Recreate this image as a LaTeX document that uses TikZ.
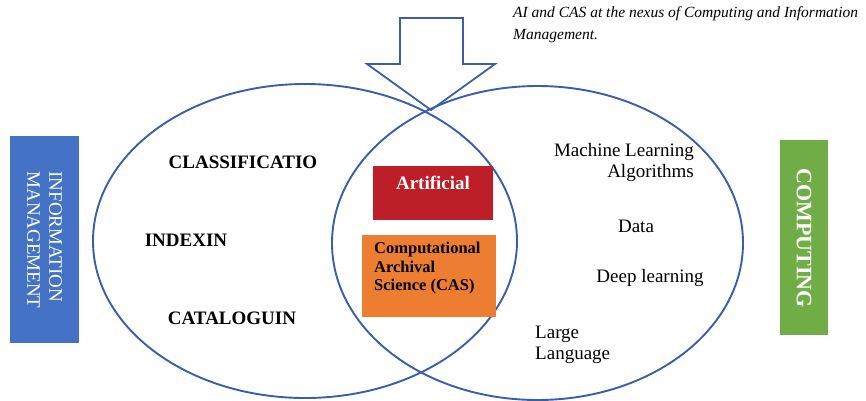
\documentclass[tikz,border=0pt]{standalone}
\usepackage{fontspec}
\setmainfont{Liberation Serif}
\definecolor{vennline}{RGB}{59,94,170}
\definecolor{imblue}{RGB}{68,114,196}
\definecolor{compgreen}{RGB}{112,173,71}
\definecolor{aired}{RGB}{190,30,40}
\definecolor{casorange}{RGB}{237,125,49}
\tikzset{
  venn/.style={draw=vennline, line width=1.9pt},
  boldlbl/.style={font=\fontsize{19}{22}\selectfont\bfseries, inner sep=0pt},
  plainlbl/.style={font=\fontsize{19}{21}\selectfont, inner sep=0pt},
}
\begin{document}
\begin{tikzpicture}[x=1pt, y=-1pt]
  \useasboundingbox (0,0) rectangle (866,400);
  % two overlapping sets
  \draw[venn] (305,241) ellipse [x radius=212pt, y radius=157pt];
  \draw[venn] (537.5,243) ellipse [x radius=205.5pt, y radius=157pt];
  % downward block arrow pointing at the overlap
  \draw[venn, line width=1.8pt, line join=miter]
    (400,18) -- (463,18) -- (463,64) -- (495,64) -- (431,110)
    -- (367,64) -- (400,64) -- cycle;
  % caption
  \node[anchor=north west, align=left, inner sep=0pt,
        font=\fontsize{15.5}{22.5}\selectfont\itshape] (caption) at (513,6)
    {AI and CAS at the nexus of Computing and Information\\Management.};
  % side panels
  \fill[imblue] (10,136) rectangle (79,343);
  \node[rotate=-90, align=left, inner sep=0pt, text=white,
        font=\fontsize{19}{22}\selectfont] (im) at (44.5,240)
    {INFORMATION\\MANAGEMENT};
  \fill[compgreen] (780,140) rectangle (828,335);
  \node[rotate=-90, inner sep=0pt, text=white,
        font=\fontsize{22}{24}\selectfont\bfseries] (comp) at (804,238)
    {COMPUTING};
  % information management topics
  \node[boldlbl] (classif) at (243,162) {CLASSIFICATIO};
  \node[boldlbl] (index) at (186,240) {INDEXIN};
  \node[boldlbl] (catalog) at (232,318) {CATALOGUIN};
  % overlap
  \fill[aired] (373,166) rectangle (493,220);
  \node[boldlbl, text=white] (ai) at (433,183) {Artificial};
  \fill[casorange] (362,235) rectangle (496,317);
  \node[anchor=west, align=left, inner sep=0pt,
        font=\fontsize{16.5}{18.5}\selectfont\bfseries] (cas) at (374,268.5)
    {Computational\\Archival\\Science (CAS)};
  % computing topics
  \node[plainlbl, align=right, anchor=east]
    (ml) at (694,162.5) {Machine Learning\\Algorithms};
  \node[plainlbl] (data) at (636,226) {Data};
  \node[plainlbl] (deep) at (650,278) {Deep learning};
  \node[plainlbl, align=left, anchor=west] (llm) at (535,345)
    {Large\\Language};
\end{tikzpicture}
\end{document}
